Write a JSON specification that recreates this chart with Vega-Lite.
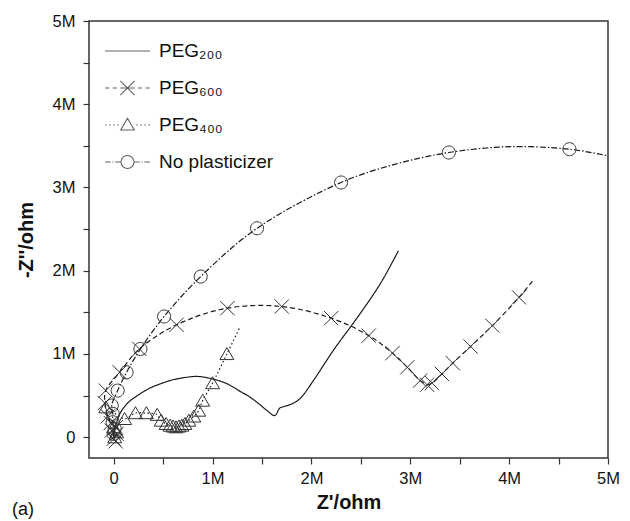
{
  "$schema": "https://vega.github.io/schema/vega-lite/v6.json",
  "width": 519,
  "height": 437,
  "autosize": {"type": "none"},
  "padding": {"left": 89, "top": 21, "right": 22, "bottom": 63},
  "background": "white",
  "config": {
    "font": "Liberation Sans",
    "view": {"stroke": "#333", "strokeWidth": 1.5},
    "axis": {
      "grid": false,
      "domain": false,
      "tickColor": "#333",
      "tickSize": 6,
      "tickWidth": 1.2,
      "labelFont": "Liberation Sans",
      "labelFontSize": 16.5,
      "labelColor": "#111",
      "titleFont": "Liberation Sans",
      "titleFontSize": 20,
      "titleFontWeight": "bold",
      "titleColor": "#111",
      "labelOverlap": false,
      "labelFlush": false
    }
  },
  "title": {"text": "(a)", "orient": "bottom", "anchor": "start", "frame": "bounds", "font": "Liberation Sans", "fontSize": 18, "fontWeight": "normal", "color": "#111", "offset": -12, "dx": -4},
  "datasets": {
    "lines": [
      {"series": "PEG₂₀₀", "x": 0.0, "y": 0.0},
      {"series": "PEG₂₀₀", "x": 0.01, "y": 0.08},
      {"series": "PEG₂₀₀", "x": 0.03, "y": 0.18},
      {"series": "PEG₂₀₀", "x": 0.07, "y": 0.3},
      {"series": "PEG₂₀₀", "x": 0.15, "y": 0.42},
      {"series": "PEG₂₀₀", "x": 0.24, "y": 0.5},
      {"series": "PEG₂₀₀", "x": 0.35, "y": 0.58},
      {"series": "PEG₂₀₀", "x": 0.47, "y": 0.64},
      {"series": "PEG₂₀₀", "x": 0.6, "y": 0.69},
      {"series": "PEG₂₀₀", "x": 0.74, "y": 0.72},
      {"series": "PEG₂₀₀", "x": 0.85, "y": 0.73},
      {"series": "PEG₂₀₀", "x": 1.0, "y": 0.7},
      {"series": "PEG₂₀₀", "x": 1.15, "y": 0.64},
      {"series": "PEG₂₀₀", "x": 1.28, "y": 0.55},
      {"series": "PEG₂₀₀", "x": 1.38, "y": 0.48},
      {"series": "PEG₂₀₀", "x": 1.48, "y": 0.39},
      {"series": "PEG₂₀₀", "x": 1.55, "y": 0.32},
      {"series": "PEG₂₀₀", "x": 1.63, "y": 0.26},
      {"series": "PEG₂₀₀", "x": 1.68, "y": 0.35},
      {"series": "PEG₂₀₀", "x": 1.73, "y": 0.37},
      {"series": "PEG₂₀₀", "x": 1.82, "y": 0.41},
      {"series": "PEG₂₀₀", "x": 1.89, "y": 0.47},
      {"series": "PEG₂₀₀", "x": 2.02, "y": 0.68},
      {"series": "PEG₂₀₀", "x": 2.22, "y": 1.04},
      {"series": "PEG₂₀₀", "x": 2.49, "y": 1.48},
      {"series": "PEG₂₀₀", "x": 2.7, "y": 1.85},
      {"series": "PEG₂₀₀", "x": 2.88, "y": 2.24},

      {"series": "PEG₆₀₀", "x": 0.0, "y": -0.02},
      {"series": "PEG₆₀₀", "x": 0.03, "y": 0.04},
      {"series": "PEG₆₀₀", "x": -0.02, "y": 0.08},
      {"series": "PEG₆₀₀", "x": 0.02, "y": 0.12},
      {"series": "PEG₆₀₀", "x": -0.03, "y": 0.17},
      {"series": "PEG₆₀₀", "x": -0.06, "y": 0.25},
      {"series": "PEG₆₀₀", "x": -0.09, "y": 0.41},
      {"series": "PEG₆₀₀", "x": -0.08, "y": 0.56},
      {"series": "PEG₆₀₀", "x": 0.06, "y": 0.78},
      {"series": "PEG₆₀₀", "x": 0.26, "y": 1.06},
      {"series": "PEG₆₀₀", "x": 0.635, "y": 1.35},
      {"series": "PEG₆₀₀", "x": 1.15, "y": 1.55},
      {"series": "PEG₆₀₀", "x": 1.7, "y": 1.57},
      {"series": "PEG₆₀₀", "x": 2.2, "y": 1.43},
      {"series": "PEG₆₀₀", "x": 2.58, "y": 1.22},
      {"series": "PEG₆₀₀", "x": 2.82, "y": 1.01},
      {"series": "PEG₆₀₀", "x": 2.97, "y": 0.84},
      {"series": "PEG₆₀₀", "x": 3.1, "y": 0.68},
      {"series": "PEG₆₀₀", "x": 3.17, "y": 0.63},
      {"series": "PEG₆₀₀", "x": 3.22, "y": 0.65},
      {"series": "PEG₆₀₀", "x": 3.32, "y": 0.76},
      {"series": "PEG₆₀₀", "x": 3.43, "y": 0.89},
      {"series": "PEG₆₀₀", "x": 3.61, "y": 1.09},
      {"series": "PEG₆₀₀", "x": 3.83, "y": 1.34},
      {"series": "PEG₆₀₀", "x": 4.1, "y": 1.68},
      {"series": "PEG₆₀₀", "x": 4.24, "y": 1.88},

      {"series": "PEG₄₀₀", "x": 0.01, "y": 0.0},
      {"series": "PEG₄₀₀", "x": 0.03, "y": 0.06},
      {"series": "PEG₄₀₀", "x": 0.0, "y": 0.12},
      {"series": "PEG₄₀₀", "x": -0.08, "y": 0.36},
      {"series": "PEG₄₀₀", "x": 0.11, "y": 0.22},
      {"series": "PEG₄₀₀", "x": 0.22, "y": 0.29},
      {"series": "PEG₄₀₀", "x": 0.33, "y": 0.29},
      {"series": "PEG₄₀₀", "x": 0.44, "y": 0.27},
      {"series": "PEG₄₀₀", "x": 0.48, "y": 0.2},
      {"series": "PEG₄₀₀", "x": 0.53, "y": 0.16},
      {"series": "PEG₄₀₀", "x": 0.57, "y": 0.14},
      {"series": "PEG₄₀₀", "x": 0.6, "y": 0.13},
      {"series": "PEG₄₀₀", "x": 0.63, "y": 0.12},
      {"series": "PEG₄₀₀", "x": 0.66, "y": 0.13},
      {"series": "PEG₄₀₀", "x": 0.69, "y": 0.14},
      {"series": "PEG₄₀₀", "x": 0.72, "y": 0.16},
      {"series": "PEG₄₀₀", "x": 0.76, "y": 0.2},
      {"series": "PEG₄₀₀", "x": 0.81, "y": 0.25},
      {"series": "PEG₄₀₀", "x": 0.86, "y": 0.32},
      {"series": "PEG₄₀₀", "x": 0.9, "y": 0.44},
      {"series": "PEG₄₀₀", "x": 1.0, "y": 0.65},
      {"series": "PEG₄₀₀", "x": 1.145, "y": 1.0},
      {"series": "PEG₄₀₀", "x": 1.28, "y": 1.33},

      {"series": "No plasticizer", "x": 0.0, "y": 0.0},
      {"series": "No plasticizer", "x": 0.0, "y": 0.04},
      {"series": "No plasticizer", "x": 0.01, "y": 0.1},
      {"series": "No plasticizer", "x": -0.01, "y": 0.18},
      {"series": "No plasticizer", "x": -0.01, "y": 0.28},
      {"series": "No plasticizer", "x": -0.02, "y": 0.38},
      {"series": "No plasticizer", "x": 0.04, "y": 0.56},
      {"series": "No plasticizer", "x": 0.13, "y": 0.78},
      {"series": "No plasticizer", "x": 0.27, "y": 1.06},
      {"series": "No plasticizer", "x": 0.51, "y": 1.45},
      {"series": "No plasticizer", "x": 0.88, "y": 1.93},
      {"series": "No plasticizer", "x": 1.45, "y": 2.51},
      {"series": "No plasticizer", "x": 2.3, "y": 3.06},
      {"series": "No plasticizer", "x": 2.85, "y": 3.28},
      {"series": "No plasticizer", "x": 3.39, "y": 3.42},
      {"series": "No plasticizer", "x": 4.0, "y": 3.49},
      {"series": "No plasticizer", "x": 4.61, "y": 3.46},
      {"series": "No plasticizer", "x": 5.0, "y": 3.38}
    ],
    "markers": [
      {"series": "PEG₆₀₀", "x": 0.02, "y": -0.05},
      {"series": "PEG₆₀₀", "x": 0.0, "y": -0.02},
      {"series": "PEG₆₀₀", "x": 0.03, "y": 0.04},
      {"series": "PEG₆₀₀", "x": -0.02, "y": 0.08},
      {"series": "PEG₆₀₀", "x": 0.02, "y": 0.12},
      {"series": "PEG₆₀₀", "x": -0.03, "y": 0.17},
      {"series": "PEG₆₀₀", "x": -0.06, "y": 0.25},
      {"series": "PEG₆₀₀", "x": -0.09, "y": 0.41},
      {"series": "PEG₆₀₀", "x": -0.08, "y": 0.56},
      {"series": "PEG₆₀₀", "x": 0.06, "y": 0.78},
      {"series": "PEG₆₀₀", "x": 0.26, "y": 1.06},
      {"series": "PEG₆₀₀", "x": 0.635, "y": 1.35},
      {"series": "PEG₆₀₀", "x": 1.15, "y": 1.55},
      {"series": "PEG₆₀₀", "x": 1.7, "y": 1.57},
      {"series": "PEG₆₀₀", "x": 2.2, "y": 1.43},
      {"series": "PEG₆₀₀", "x": 2.58, "y": 1.22},
      {"series": "PEG₆₀₀", "x": 2.82, "y": 1.01},
      {"series": "PEG₆₀₀", "x": 2.97, "y": 0.84},
      {"series": "PEG₆₀₀", "x": 3.1, "y": 0.68},
      {"series": "PEG₆₀₀", "x": 3.17, "y": 0.63},
      {"series": "PEG₆₀₀", "x": 3.22, "y": 0.65},
      {"series": "PEG₆₀₀", "x": 3.32, "y": 0.76},
      {"series": "PEG₆₀₀", "x": 3.43, "y": 0.89},
      {"series": "PEG₆₀₀", "x": 3.61, "y": 1.09},
      {"series": "PEG₆₀₀", "x": 3.83, "y": 1.34},
      {"series": "PEG₆₀₀", "x": 4.1, "y": 1.68},

      {"series": "PEG₄₀₀", "x": 0.01, "y": 0.0},
      {"series": "PEG₄₀₀", "x": 0.03, "y": 0.06},
      {"series": "PEG₄₀₀", "x": 0.0, "y": 0.12},
      {"series": "PEG₄₀₀", "x": -0.08, "y": 0.36},
      {"series": "PEG₄₀₀", "x": 0.11, "y": 0.22},
      {"series": "PEG₄₀₀", "x": 0.22, "y": 0.29},
      {"series": "PEG₄₀₀", "x": 0.33, "y": 0.29},
      {"series": "PEG₄₀₀", "x": 0.44, "y": 0.27},
      {"series": "PEG₄₀₀", "x": 0.48, "y": 0.2},
      {"series": "PEG₄₀₀", "x": 0.53, "y": 0.16},
      {"series": "PEG₄₀₀", "x": 0.57, "y": 0.14},
      {"series": "PEG₄₀₀", "x": 0.6, "y": 0.13},
      {"series": "PEG₄₀₀", "x": 0.63, "y": 0.12},
      {"series": "PEG₄₀₀", "x": 0.66, "y": 0.13},
      {"series": "PEG₄₀₀", "x": 0.69, "y": 0.14},
      {"series": "PEG₄₀₀", "x": 0.72, "y": 0.16},
      {"series": "PEG₄₀₀", "x": 0.76, "y": 0.2},
      {"series": "PEG₄₀₀", "x": 0.81, "y": 0.25},
      {"series": "PEG₄₀₀", "x": 0.86, "y": 0.32},
      {"series": "PEG₄₀₀", "x": 0.9, "y": 0.44},
      {"series": "PEG₄₀₀", "x": 1.0, "y": 0.65},
      {"series": "PEG₄₀₀", "x": 1.145, "y": 1.0},

      {"series": "No plasticizer", "x": 0.0, "y": 0.04},
      {"series": "No plasticizer", "x": 0.01, "y": 0.1},
      {"series": "No plasticizer", "x": -0.01, "y": 0.18},
      {"series": "No plasticizer", "x": -0.01, "y": 0.28},
      {"series": "No plasticizer", "x": -0.02, "y": 0.38},
      {"series": "No plasticizer", "x": 0.04, "y": 0.56},
      {"series": "No plasticizer", "x": 0.13, "y": 0.78},
      {"series": "No plasticizer", "x": 0.27, "y": 1.06},
      {"series": "No plasticizer", "x": 0.51, "y": 1.45},
      {"series": "No plasticizer", "x": 0.88, "y": 1.93},
      {"series": "No plasticizer", "x": 1.45, "y": 2.51},
      {"series": "No plasticizer", "x": 2.3, "y": 3.06},
      {"series": "No plasticizer", "x": 3.39, "y": 3.42},
      {"series": "No plasticizer", "x": 4.61, "y": 3.46}
    ]
  },
  "encoding": {
    "x": {
      "field": "x", "type": "quantitative",
      "scale": {"domain": [-0.25, 5], "nice": false, "zero": false},
      "axis": {
        "title": "Z'/ohm",
        "values": [0, 0.5, 1, 1.5, 2, 2.5, 3, 3.5, 4, 4.5, 5],
        "labelExpr": "datum.value == 0 ? '0' : (datum.value % 1 == 0 ? datum.value + 'M' : '')",
        "labelPadding": 6,
        "titlePadding": 6
      }
    },
    "y": {
      "field": "y", "type": "quantitative",
      "scale": {"domain": [-0.25, 5], "nice": false, "zero": false},
      "axis": {
        "title": "-Z''/ohm",
        "values": [0, 0.5, 1, 1.5, 2, 2.5, 3, 3.5, 4, 4.5, 5],
        "labelExpr": "datum.value == 0 ? '0' : (datum.value % 1 == 0 ? datum.value + 'M' : '')",
        "labelPadding": 8,
        "titlePadding": 16
      }
    }
  },
  "layer": [
    {
      "data": {"name": "lines"},
      "mark": {"type": "line", "interpolate": "catmull-rom", "color": "#1a1a1a", "strokeWidth": 1.2},
      "encoding": {
        "detail": {"field": "series"},
        "order": {"value": null},
        "strokeDash": {
          "field": "series", "type": "nominal",
          "scale": {"domain": ["PEG₂₀₀", "PEG₆₀₀", "PEG₄₀₀", "No plasticizer"], "range": [[1, 0], [5, 3], [1.5, 2.5], [6, 2, 1.5, 2]]},
          "legend": null
        }
      }
    },
    {
      "data": {"name": "markers"},
      "mark": {"type": "point", "filled": false, "stroke": "#333", "strokeWidth": 1, "size": 225, "opacity": 1},
      "encoding": {
        "shape": {
          "field": "series", "type": "nominal",
          "scale": {
            "domain": ["PEG₂₀₀", "PEG₆₀₀", "PEG₄₀₀", "No plasticizer"],
            "range": [
              "M0,0",
              "M-0.95,-0.95L0.95,0.95M-0.95,0.95L0.95,-0.95",
              "M0,-0.85L0.93,0.75L-0.93,0.75Z",
              "M0.87,0A0.87,0.87,0,1,1,-0.87,0A0.87,0.87,0,1,1,0.87,0"
            ]
          },
          "legend": null
        }
      }
    },
    {
      "data": {"name": "markers"},
      "transform": [{"filter": "datum.x > 100"}],
      "mark": {"type": "point", "filled": false, "stroke": "#222", "strokeWidth": 1},
      "encoding": {
        "shape": {
          "field": "series", "type": "nominal",
          "scale": {
            "domain": ["PEG₂₀₀", "PEG₆₀₀", "PEG₄₀₀", "No plasticizer"],
            "range": [
              "M-1,0L1,0",
              "M-1,0H-0.8M-0.66,0H-0.46M-0.32,0H0.32M0.46,0H0.66M0.8,0H1M-0.32,-0.32L0.32,0.32M-0.32,0.32L0.32,-0.32",
              "M-1,0H-0.93M-0.82,0H-0.75M-0.64,0H-0.57M-0.46,0H-0.39M0.39,0H0.46M0.57,0H0.64M0.75,0H0.82M0.93,0H1M0,-0.3L0.3,0.22L-0.3,0.22Z",
              "M-1,0H-0.75M-0.67,0H-0.62M-0.54,0H-0.29M0.29,0H0.54M0.62,0H0.67M0.75,0H1M0.29,0A0.29,0.29,0,1,1,-0.29,0A0.29,0.29,0,1,1,0.29,0"
            ]
          },
          "legend": {
            "orient": "none",
            "legendX": 15,
            "legendY": 18,
            "title": null,
            "padding": 0,
            "symbolSize": 2025,
            "symbolStrokeWidth": 1.1,
            "symbolStrokeColor": "#222",
            "symbolFillColor": "transparent",
            "labelFont": "Liberation Sans",
            "labelFontSize": 19,
            "labelColor": "#111",
            "labelOffset": 8,
            "rowPadding": 13,
            "clipHeight": 24
          }
        }
      }
    }
  ],
  "resolve": {"scale": {"shape": "independent"}, "legend": {"shape": "independent"}}
}
